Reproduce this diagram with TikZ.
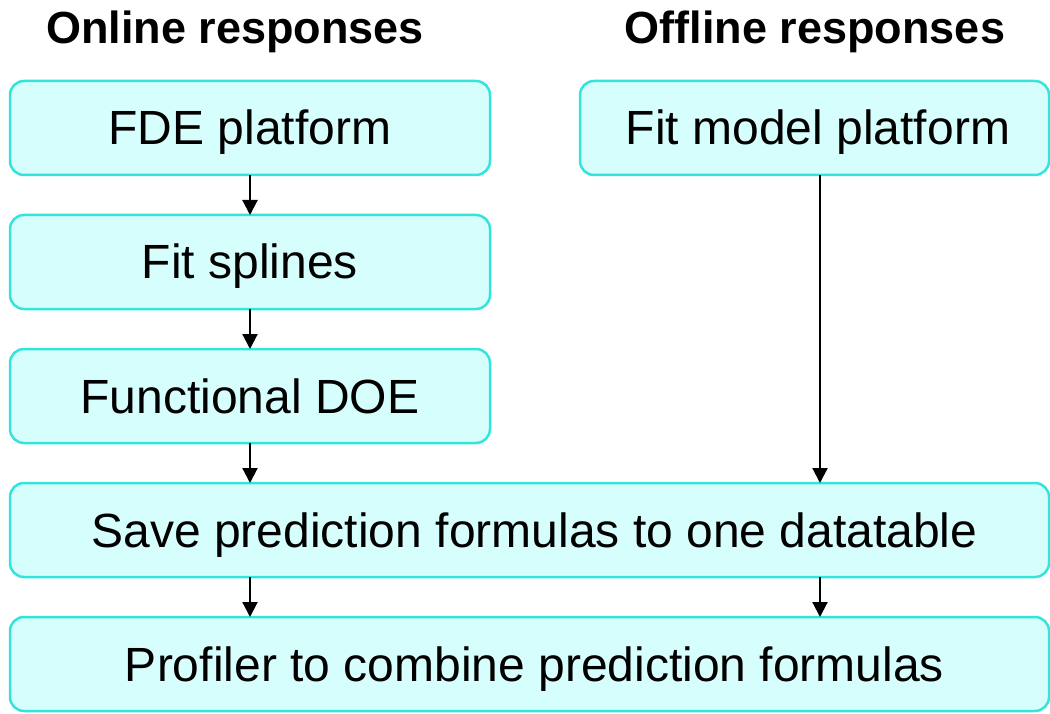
\documentclass[tikz,border=0pt]{standalone}
\usepackage{fontspec}
\setmainfont{Liberation Sans}
\usetikzlibrary{arrows.meta}
\definecolor{boxfill}{RGB}{214,254,252}
\definecolor{boxline}{RGB}{51,228,220}
\begin{document}
\begin{tikzpicture}[x=1pt,y=-1pt,
  procbox/.style={draw=boxline, fill=boxfill, line width=2.5pt, rounded corners=14pt,
    minimum height=94pt, inner sep=0pt, outer sep=0pt,
    font=\fontsize{48}{56}\selectfont, text height=34pt, text depth=0pt},
  heading/.style={font=\fontsize{45}{52}\selectfont\bfseries, text height=32pt,
    text depth=0pt, inner sep=0pt},
  flow/.style={line width=2.2pt, -{Triangle[width=15pt,length=15pt]}}]
\useasboundingbox (0,0) rectangle (1050,714);
\node[heading] (hon) at (235,28) {Online responses};
\node[heading] (hoff) at (815,28) {Offline responses};
\node[procbox, minimum width=480pt] (fde) at (250,128) {FDE platform};
\node[procbox, minimum width=480pt] (spl) at (250,262) {Fit splines};
\node[procbox, minimum width=480pt] (doe) at (250,396) {Functional DOE};
\node[procbox, minimum width=469pt] (fit) at (814.5,128) {\hspace{7pt}Fit model platform};
\node[procbox, minimum width=1039pt] (save) at (529.5,530) {\hspace{10pt}Save prediction formulas to one datatable};
\node[procbox, minimum width=1039pt] (prof) at (529.5,664) {\hspace{10pt}Profiler to combine prediction formulas};
\coordinate (lc) at (250,0);
\coordinate (rc) at (820,0);
\draw[flow] (fde.south) -- (spl.north);
\draw[flow] (spl.south) -- (doe.north);
\draw[flow] (doe.south -| lc) -- (save.north -| lc);
\draw[flow] (fit.south -| rc) -- (save.north -| rc);
\draw[flow] (save.south -| lc) -- (prof.north -| lc);
\draw[flow] (save.south -| rc) -- (prof.north -| rc);
\end{tikzpicture}
\end{document}
